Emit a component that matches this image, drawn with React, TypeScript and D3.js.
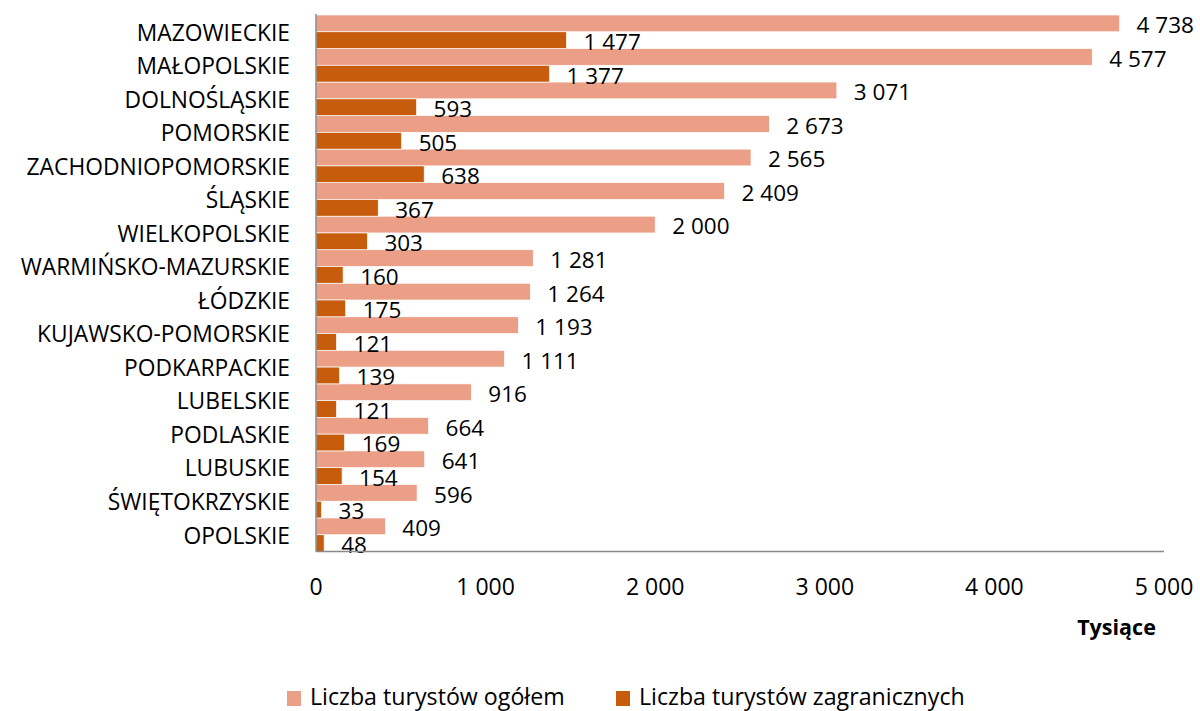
import React from "react";
import * as d3 from "d3";

const categories = [
  "MAZOWIECKIE", "MAŁOPOLSKIE", "DOLNOŚLĄSKIE", "POMORSKIE", "ZACHODNIOPOMORSKIE",
  "ŚLĄSKIE", "WIELKOPOLSKIE", "WARMIŃSKO-MAZURSKIE", "ŁÓDZKIE", "KUJAWSKO-POMORSKIE",
  "PODKARPACKIE", "LUBELSKIE", "PODLASKIE", "LUBUSKIE", "ŚWIĘTOKRZYSKIE", "OPOLSKIE",
];
const totalTourists = [4738, 4577, 3071, 2673, 2565, 2409, 2000, 1281, 1264, 1193, 1111, 916, 664, 641, 596, 409];
const foreignTourists = [1477, 1377, 593, 505, 638, 367, 303, 160, 175, 121, 139, 121, 169, 154, 33, 48];
const seriesNames = ["Liczba turystów ogółem", "Liczba turystów zagranicznych"];
const seriesColors = ["#EA9F86", "#C65C0C"];
const xTicks = [0, 1000, 2000, 3000, 4000, 5000];
const axisTitle = "Tysiące";

const W = 1200, H = 711;
const left = 316, right = 1164, top = 15, bottom = 551.5;
const FONT = "'Open Sans', sans-serif";

const fmt = (v: number) => {
  const s = String(v);
  return s.length > 3 ? s.slice(0, s.length - 3) + " " + s.slice(-3) : s;
};

export default function App() {
  const x = d3.scaleLinear().domain([0, 5000]).range([left, right]);
  const y = d3.scaleBand<string>().domain(categories).range([top, bottom]).padding(0);
  const inner = d3.scaleBand<number>().domain([0, 1]).range([0, y.bandwidth()]).padding(0);
  const series = [totalTourists, foreignTourists];

  return (
    <svg width={W} height={H} style={{ position: "absolute", left: 0, top: 0, background: "#fff" }} fontFamily={FONT}>
      {series.map((vals, si) =>
        vals.map((v, i) => {
          const y0 = (y(categories[i]) as number) + (inner(si) as number);
          return (
            <g key={`${si}-${i}`}>
              <rect x={x(0)} y={y0} width={x(v) - x(0)} height={inner.bandwidth()} fill={seriesColors[si]} stroke="#fff" strokeWidth={0.7} />
              <text x={x(v) + 17} y={y0 + inner.bandwidth() + 1.5} fontSize={22.5} fill="#000">{fmt(v)}</text>
            </g>
          );
        })
      )}
      {categories.map((c) => (
        <text key={c} x={290} y={(y(c) as number) + y.bandwidth() / 2 + 0.8} dy="0.35em" textAnchor="end" fontSize={22.8} fill="#000">{c}</text>
      ))}
      <line x1={left} x2={left} y1={top - 1} y2={bottom} stroke="#898989" strokeWidth={1.5} />
      <line x1={left} x2={right} y1={bottom} y2={bottom} stroke="#898989" strokeWidth={1.5} />
      {xTicks.map((t) => (
        <text key={t} x={x(t)} y={595} textAnchor="middle" fontSize={23} fill="#000">{fmt(t)}</text>
      ))}
      <text x={1116.5} y={635} textAnchor="middle" fontSize={21.5} fontWeight="bold" fill="#000">{axisTitle}</text>
      {seriesNames.map((n, i) => {
        const lx = [287, 616][i];
        return (
          <g key={n}>
            <rect x={lx} y={691} width={14} height={15} fill={seriesColors[i]} />
            <text x={lx + 23} y={705} fontSize={23.2} fill="#000">{n}</text>
          </g>
        );
      })}
    </svg>
  );
}
